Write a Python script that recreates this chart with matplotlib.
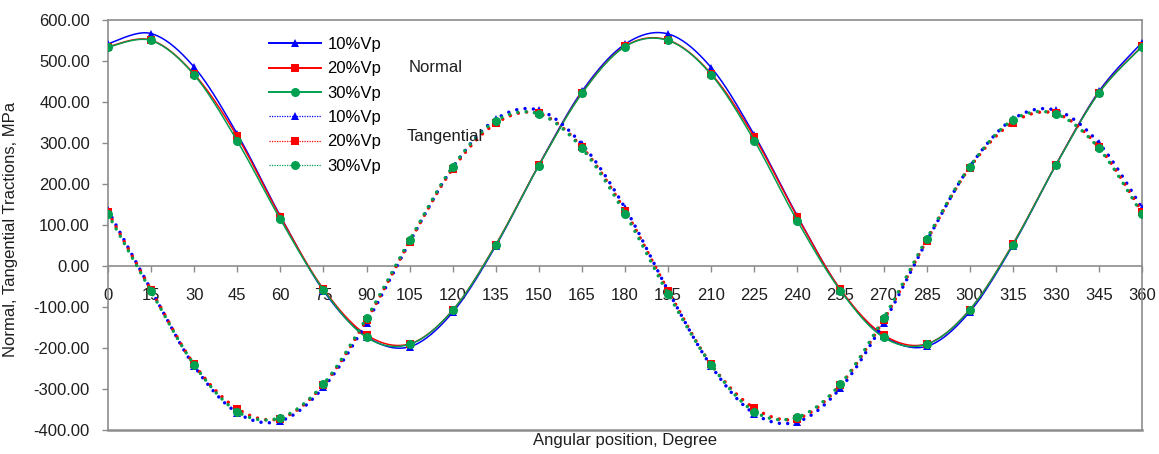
import matplotlib
matplotlib.use("Agg")
import matplotlib.pyplot as plt
from matplotlib.lines import Line2D
import numpy as np

plt.rcParams['font.family'] = ['Liberation Sans', 'DejaVu Sans']

angles = list(range(0, 361, 15))

# normal tractions, MPa
normal_10 = [542, 567, 485, 322, 122, -60, -172, -197, -113, 49, 246, 426, 541,
             566, 484, 320, 122, -58, -170, -196, -112, 50, 246, 426, 545]
normal_20 = [535, 551, 468, 316, 120, -56, -168, -190, -108, 52, 246, 422, 536,
             551, 469, 315, 120, -57, -168, -190, -107, 53, 247, 423, 536]
normal_30 = [534, 550, 466, 305, 114, -58, -174, -191, -108, 51, 245, 421, 535,
             550, 467, 306, 110, -60, -174, -191, -107, 52, 246, 422, 535]

# tangential tractions, MPa
tang_10 = [136, -58, -244, -358, -378, -296, -138, 58, 240, 358, 380, 297, 142,
           -60, -244, -360, -380, -298, -139, 60, 242, 358, 380, 300, 142]
tang_20 = [131, -58, -240, -348, -372, -290, -132, 59, 237, 348, 372, 290, 135,
           -60, -240, -347, -372, -290, -132, 62, 240, 350, 372, 290, 132]
tang_30 = [126, -62, -241, -355, -370, -288, -127, 63, 242, 354, 371, 287, 128,
           -68, -241, -355, -369, -288, -128, 66, 242, 356, 371, 287, 127]

labels = ['10%Vp', '20%Vp', '30%Vp']

STEPS = 20
BLUE = '#0000ff'
RED = '#ff0000'
GREEN = '#00a050'
FRAME = '#8c8c8c'
TEXT = '#1e1e1e'


def smooth(xs, ys, steps=STEPS):
        # excel-like smoothed line, bezier segment between each pair of points
        x = np.asarray(xs, dtype=float)
        y = np.asarray(ys, dtype=float)
        n = len(x)
        t = np.linspace(0, 1, steps, endpoint=False)
        outx, outy = [], []
        for i in range(n - 1):
                i0 = max(i - 1, 0)
                i3 = min(i + 2, n - 1)
                for arr, out in ((x, outx), (y, outy)):
                        p0, p1 = arr[i], arr[i + 1]
                        c1 = p0 + (arr[i + 1] - arr[i0]) / 6.0
                        c2 = p1 - (arr[i3] - arr[i]) / 6.0
                        out.extend((1 - t) ** 3 * p0 + 3 * (1 - t) ** 2 * t * c1
                                   + 3 * (1 - t) * t ** 2 * c2 + t ** 3 * p1)
        outx.append(x[-1])
        outy.append(y[-1])
        return np.array(outx), np.array(outy)


fig = plt.figure(figsize=(11.59, 4.54), dpi=100)
ax = fig.add_axes([108 / 1159, 1 - 430 / 454, 1034 / 1159, 410 / 454])

series = [
        (normal_10, BLUE, '^', 6, 'solid'),
        (normal_20, RED, 's', 6, 'solid'),
        (normal_30, GREEN, 'o', 6.5, 'solid'),
        (tang_10, BLUE, '^', 6, 'dotted'),
        (tang_20, RED, 's', 6, 'dotted'),
        (tang_30, GREEN, 'o', 6.5, 'dotted'),
]

handles = []
for i, (vals, col, mk, ms, style) in enumerate(series):
        sx, sy = smooth(angles, vals)
        if style == 'solid':
                ls, lw = '-', 1.1
        else:
                ls, lw = (0, (0.01, 2.4)), 2.5
        ax.plot(sx, sy, color=col, lw=lw, linestyle=ls,
                dash_capstyle='round', marker=mk, markersize=ms,
                markevery=slice(0, None, STEPS), markeredgewidth=0,
                markerfacecolor=col, zorder=3 + i)
        # legend shows the dotted ones as a thin line, as in the original
        if style == 'solid':
                handles.append(Line2D([], [], color=col, lw=1.4, marker=mk,
                                      markersize=ms, markeredgewidth=0))
        else:
                handles.append(Line2D([], [], color=col, lw=0.9, alpha=1,
                                      linestyle=(0, (1, 1)), marker=mk,
                                      markersize=ms, markeredgewidth=0))

ax.set_xlim(0, 360)
ax.set_ylim(-400, 600)
ax.set_xticks(angles)
ax.set_xticklabels([str(a) for a in angles])
ax.set_yticks(np.arange(-400, 601, 100))
ax.set_yticklabels(['%.2f' % v for v in np.arange(-400, 601, 100)])

for s in ['top', 'left', 'right']:
        ax.spines[s].set_color(FRAME)
        ax.spines[s].set_linewidth(1.2)
ax.spines['bottom'].set_position(('data', 0))
ax.spines['bottom'].set_color(FRAME)
ax.spines['bottom'].set_linewidth(1.2)
ax.axhline(-400, color=FRAME, lw=1.8, clip_on=False, zorder=2)

ax.tick_params(axis='x', direction='out', length=4, width=1, color=FRAME,
               pad=11.5, labelsize=12, labelcolor=TEXT)
ax.tick_params(axis='y', direction='out', length=4, width=1, color=FRAME,
               pad=9, labelsize=12, labelcolor=TEXT)

ax.set_ylabel('Normal, Tangential Tractions, MPa', fontsize=12, color=TEXT)
ax.yaxis.set_label_coords(-0.087, 0.49)
fig.text(625 / 1159, 1 - 440 / 454, 'Angular position, Degree', fontsize=12,
         color=TEXT, ha='center', va='center')

ax.legend(handles, labels + labels, loc='upper left',
          bbox_to_anchor=(269 / 1159, 1 - 37 / 454), bbox_transform=fig.transFigure,
          frameon=False, borderpad=0, borderaxespad=0, handlelength=3.1,
          handletextpad=0.4, labelspacing=0.56, fontsize=12, numpoints=1)

ax.text(409 / 1159, 1 - 67 / 454, 'Normal', transform=fig.transFigure,
        fontsize=12, color=TEXT, va='center', zorder=10)
ax.text(407 / 1159, 1 - 137 / 454, 'Tangential', transform=fig.transFigure,
        fontsize=12, color=TEXT, va='center', zorder=10)

fig.savefig('out.png', dpi=100)
